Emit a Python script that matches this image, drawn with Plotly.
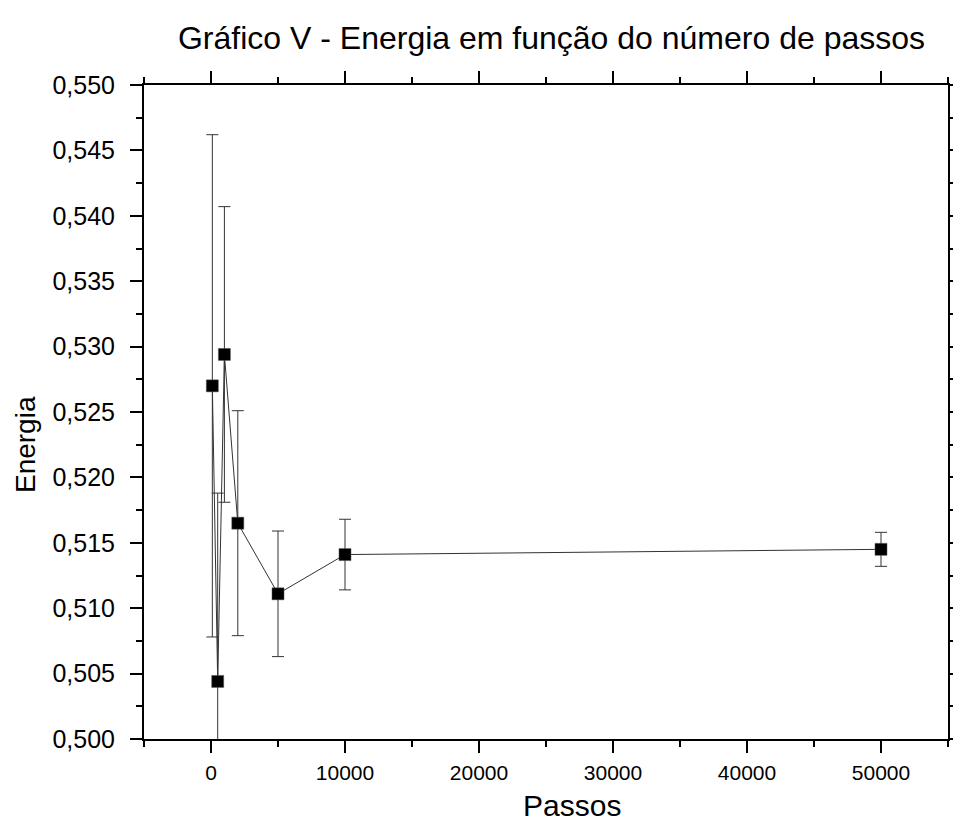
import plotly.graph_objects as go

passos = [100, 500, 1000, 2000, 5000, 10000, 50000]
energia = [0.5270, 0.5044, 0.5294, 0.5165, 0.5111, 0.5141, 0.5145]
erro = [0.0192, 0.0144, 0.0113, 0.0086, 0.0048, 0.0027, 0.0013]

titulo = "Gráfico V - Energia em função do número de passos"
x_titulo = "Passos"
y_titulo = "Energia"

FONT = "Liberation Sans, Arial, sans-serif"

fig = go.Figure()
fig.add_trace(go.Scatter(
    x=passos, y=energia,
    mode="lines+markers",
    line=dict(color="#333333", width=1),
    marker=dict(symbol="square", size=12, color="black",
                line=dict(color="#555555", width=0.5)),
    error_y=dict(type="data", array=erro, visible=True,
                 color="#333333", thickness=1, width=6),
    cliponaxis=True,
    showlegend=False,
))

axis_common = dict(
    showline=True, linecolor="black", linewidth=2,
    mirror="ticks", ticks="outside", tickcolor="black",
    showgrid=False, zeroline=False, automargin=False,
)

fig.update_xaxes(
    range=[-5000, 55000], dtick=10000, tick0=0, tickformat="d",
    ticklen=12, tickwidth=2, ticklabelstandoff=2,
    tickfont=dict(family=FONT, size=21, color="black"),
    minor=dict(dtick=5000, tick0=0, ticks="outside", ticklen=6, tickwidth=2, tickcolor="black"),
    **axis_common,
)
fig.update_yaxes(
    range=[0.5, 0.55], dtick=0.005, tick0=0.5, tickformat=".3f",
    ticklen=12, tickwidth=2, ticklabelstandoff=10,
    tickfont=dict(family=FONT, size=25, color="black"),
    minor=dict(dtick=0.0025, tick0=0.5, ticks="outside", ticklen=6, tickwidth=2, tickcolor="black"),
    **axis_common,
)

fig.update_layout(
    width=953, height=837,
    separators=",.",
    plot_bgcolor="white", paper_bgcolor="white",
    margin=dict(l=144, r=5, t=85, b=98),
    title=dict(text=titulo, x=0.5787, xanchor="center", y=0.9546, yanchor="middle",
               font=dict(family=FONT, size=32, color="black")),
    annotations=[
        dict(text=x_titulo, xref="paper", yref="paper", x=0.532, y=-0.101,
             xanchor="center", yanchor="middle", showarrow=False,
             font=dict(family=FONT, size=30, color="black")),
        dict(text=y_titulo, xref="paper", yref="paper", x=-0.148, y=0.4495,
             xanchor="center", yanchor="middle", showarrow=False, textangle=-90,
             font=dict(family=FONT, size=28, color="black")),
    ],
)

fig.write_html("out.html", config={"displayModeBar": False},
               post_script="document.body.style.margin='0';document.body.style.overflow='hidden';")
